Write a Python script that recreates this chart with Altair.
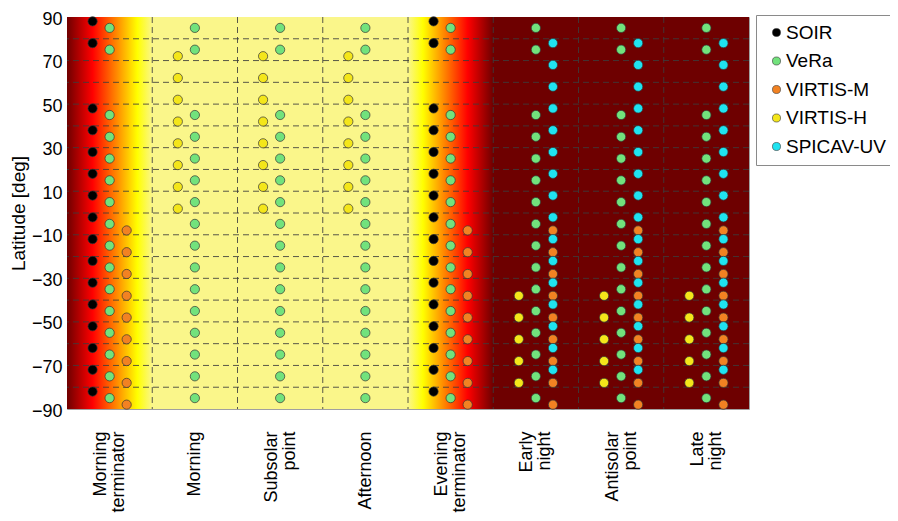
import json
import altair as alt
import pandas as pd

# ---------------- data ----------------
sectors = ["Morning terminator", "Morning", "Subsolar point", "Afternoon",
           "Evening terminator", "Early night", "Antisolar point", "Late night"]
sector_edges = [0, 1, 2, 3, 4, 5, 6, 7, 8]
lat_range = [-90, 90]
lat_ticks = [90, 70, 50, 30, 10, -10, -30, -50, -70, -90]
lat_grid = [80, 70, 60, 50, 40, 30, 20, 10, 0, -10, -20, -30, -40, -50, -60, -70, -80]

instruments = ["SOIR", "VeRa", "VIRTIS-M", "VIRTIS-H", "SPICAV-UV"]
inst_colors = ["#000000", "#72E27C", "#F28222", "#F4E61A", "#1FE3F0"]

soir_sectors = [0, 4]
soir_lats = [88, 78, 48, 38, 28, 18, 8, -2, -12, -22, -32, -42, -52, -62, -72, -82]
vera_sectors = [0, 1, 2, 3, 4, 5, 6, 7]
vera_lats = [85, 75, 45, 35, 25, 15, 5, -5, -15, -25, -35, -45, -55, -65, -75, -85]
virtism_sectors = [0, 4, 5, 6, 7]
virtism_lats = [-8, -18, -28, -38, -48, -58, -68, -78, -88]
virtish_day_sectors = [1, 2, 3]
virtish_day_lats = [72, 62, 52, 42, 32, 22, 12, 2]
virtish_night_sectors = [5, 6, 7]
virtish_night_lats = [-38, -48, -58, -68, -78]
spicav_sectors = [5, 6, 7]
spicav_lats = [78, 68, 58, 48, 38, 28, 18, 8, -2, -12, -22, -32, -42, -52, -62, -72]

# position of each instrument's column inside a local-time sector (style)
slot = {"SOIR": 0.3, "VeRa": 0.5, "VIRTIS-M": 0.7, "VIRTIS-H": 0.3, "SPICAV-UV": 0.7}

groups = [
    ("SOIR", soir_sectors, soir_lats),
    ("VeRa", vera_sectors, vera_lats),
    ("VIRTIS-M", virtism_sectors, virtism_lats),
    ("VIRTIS-H", virtish_day_sectors, virtish_day_lats),
    ("VIRTIS-H", virtish_night_sectors, virtish_night_lats),
    ("SPICAV-UV", spicav_sectors, spicav_lats),
]
rows = []
for inst, secs, lats in groups:
    for s in secs:
        for lat in lats:
            rows.append({"instrument": inst, "sector": s, "slot": slot[inst], "lat": lat})
points = pd.DataFrame(rows)

bg = pd.DataFrame({"x0": [sector_edges[0]], "x1": [sector_edges[-1]],
                   "y0": [lat_range[0]], "y1": [lat_range[1]]})
vgrid = pd.DataFrame({"edge": sector_edges[1:-1]})
hgrid = pd.DataFrame({"lat": lat_grid})

# ---------------- styling ----------------
FONT = "Liberation Sans"
night = "#6E0000"
red = "#FF0000"
yellow = "#FFFF00"
day = "#FAF68A"
col = 1.0 / len(sectors)
stops = [
    (0.0, night), (0.3 * col, red), (0.825 * col, yellow), (1.0 * col, day),
    (4 * col, day), (4 * col + 0.175 * col, yellow), (4 * col + 0.7 * col, red),
    (5 * col, night), (1.0, night),
]
gradient = alt.Gradient(
    gradient="linear",
    stops=[alt.GradientStop(offset=o, color=c) for o, c in stops],
    x1=0, x2=1, y1=0, y2=0,
)

xscale = alt.Scale(domain=[sector_edges[0], sector_edges[-1]], nice=False, zero=False)
yscale = alt.Scale(domain=lat_range, nice=False, zero=False)

names_js = json.dumps(sectors)
label_expr = "split(" + names_js + "[floor(datum.value)], ' ')"
two_line_test = "indexof(" + names_js + "[floor(datum.value)], ' ') >= 0"
xaxis = alt.Axis(
    values=[i + 0.5 for i in range(len(sectors))],
    labelExpr=label_expr, labelAngle=270, labelAlign="right", labelBaseline="middle",
    labelPadding=22, labelFontSize=18, labelLineHeight=18, labelOverlap=False,
    labelFlush=False, labelBound=False, title=None,
    labelOffset={"condition": {"test": two_line_test, "value": -9}, "value": 0},
)
yaxis = alt.Axis(
    values=lat_ticks, format="d", labelFontSize=18, labelPadding=5, labelOffset=2,
    title="Latitude [deg]", titleFontSize=19, titleFontWeight="normal", titlePadding=3,
    labelOverlap=False, labelFlush=False,
)

background = alt.Chart(bg).mark_rect(fill=gradient, stroke=None).encode(
    x=alt.X("x0:Q", scale=xscale, axis=xaxis),
    x2="x1:Q",
    y=alt.Y("y0:Q", scale=yscale, axis=yaxis),
    y2="y1:Q",
)

grid_style = dict(color="#3c3c3c", strokeWidth=1, strokeDash=[6, 4], opacity=0.85)
vlines = alt.Chart(vgrid).mark_rule(**grid_style).encode(
    x=alt.X("edge:Q", scale=xscale, axis=xaxis)
)
hlines = alt.Chart(hgrid).mark_rule(**grid_style).encode(
    y=alt.Y("lat:Q", scale=yscale, axis=yaxis)
)

dots = alt.Chart(points).transform_calculate(
    xpos="datum.sector + datum.slot"
).mark_circle(size=85, opacity=1, stroke="#333333", strokeWidth=0.7).encode(
    x=alt.X("xpos:Q", scale=xscale, axis=xaxis),
    y=alt.Y("lat:Q", scale=yscale, axis=yaxis),
    fill=alt.Fill(
        "instrument:N",
        scale=alt.Scale(domain=instruments, range=inst_colors),
        legend=alt.Legend(
            title=None, orient="none", legendX=689, legendY=-2,
            padding=8, rowPadding=8.5, symbolType="circle", symbolSize=65,
            symbolStrokeColor="#333333", symbolStrokeWidth=0.6,
            labelFontSize=19, labelOffset=0, symbolOffset=3,
            strokeColor="#8a8a8a", fillColor="#ffffff",
        ),
        sort=instruments,
    ),
)

chart = alt.layer(background, vlines, hlines, dots).properties(
    width=682, height=392,
    autosize=alt.AutoSizeParams(type="none"),
    padding={"left": 59, "top": 9, "right": 141, "bottom": 104},
).configure(
    font=FONT,
).configure_axis(
    domain=False, ticks=False, grid=False, labelColor="#000000", titleColor="#000000",
    labelFont=FONT, titleFont=FONT,
).configure_legend(
    labelFont=FONT, labelColor="#000000",
).configure_view(
    stroke="#a0a0a0", strokeWidth=1,
)

chart.save("out.html", embed_options={"renderer": "svg", "actions": False})
